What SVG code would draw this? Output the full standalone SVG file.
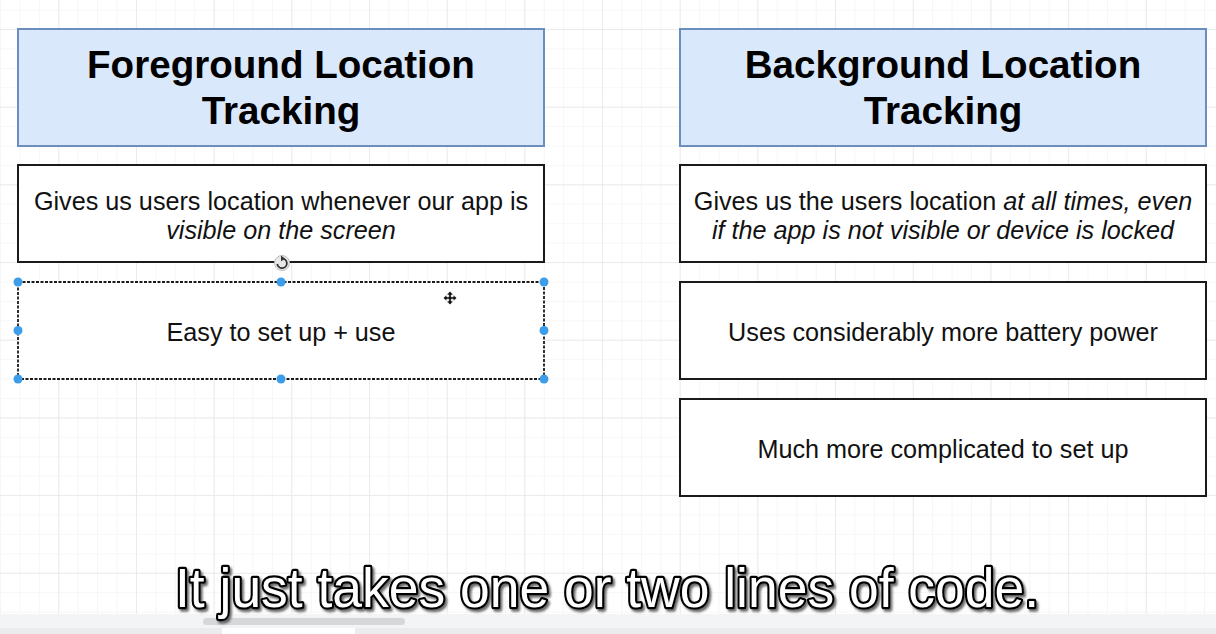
<svg xmlns="http://www.w3.org/2000/svg" width="1216" height="634" viewBox="0 0 1216 634">
  <style>
    .hdr { fill: #dae8fc; stroke: #6c8ebf; stroke-width: 2; }
    .box { fill: #ffffff; stroke: #1a1a1a; stroke-width: 2; }
    .ttl { font-family: "Liberation Sans", Arial, sans-serif; font-size: 38.6px; font-weight: bold; fill: #000; text-anchor: middle; }
    .txt { font-family: "Liberation Sans", Arial, sans-serif; font-size: 25.2px; fill: #111; text-anchor: middle; }
    .it { font-style: italic; }
    .handle { fill: #3d9de9; }
    .cap { font-family: "Liberation Sans", Arial, sans-serif; font-size: 56px; fill: #ffffff; stroke: #000; stroke-width: 4.5; paint-order: stroke; stroke-linejoin: round; }
  </style>
  <defs>
    <pattern id="minor" width="19.42" height="19.42" x="0" y="9.58" patternUnits="userSpaceOnUse">
      <path d="M0 0H19.42M0 0V19.42" fill="none" stroke="#f0f0f0" stroke-width="1.2"/>
    </pattern>
    <pattern id="major" width="77.68" height="77.68" x="58.26" y="29" patternUnits="userSpaceOnUse">
      <path d="M0 0H77.68M0 0V77.68" fill="none" stroke="#e6e6e6" stroke-width="1.4"/>
    </pattern>
    <filter id="shadow" x="-5%" y="-30%" width="110%" height="160%">
      <feDropShadow dx="2" dy="2.5" stdDeviation="0.8" flood-color="#444" flood-opacity="0.8"/>
    </filter>
  </defs>

  <!-- canvas background with grid -->
  <rect x="0" y="0" width="1216" height="634" fill="#ffffff"/>
  <rect x="0" y="0" width="1216" height="614" fill="url(#minor)"/>
  <rect x="0" y="0" width="1216" height="614" fill="url(#major)"/>

  <!-- bottom UI band -->
  <rect x="0" y="614" width="1216" height="20" fill="#f3f4f6"/>
  <rect x="0" y="628" width="1216" height="6" fill="#ebecee"/>
  <rect x="222" y="628" width="133" height="6" fill="#ffffff"/>
  <rect x="203" y="618" width="202" height="7" rx="3.5" fill="#d6d7d9"/>

  <g id="connectors"></g>

  <g id="fg-header">
    <rect class="hdr" x="18" y="29" width="526" height="117"/>
    <text class="ttl" x="281" y="78">Foreground Location</text>
    <text class="ttl" x="281" y="124">Tracking</text>
  </g>

  <g id="fg-visible">
    <rect class="box" x="18" y="165" width="526" height="97"/>
    <text class="txt" x="281" y="210">Gives us users location whenever our app is</text>
    <text class="txt it" x="281" y="239">visible on the screen</text>
  </g>

  <g id="fg-easy">
    <rect x="18" y="282" width="526" height="97" fill="#ffffff" stroke="#1a1a1a" stroke-width="1.8" stroke-dasharray="3 1.5"/>
    <text class="txt" x="281" y="341">Easy to set up + use</text>
  </g>

  <g id="selection-handles">
    <circle class="handle" cx="18" cy="282" r="4.5"/>
    <circle class="handle" cx="281" cy="282" r="4.5"/>
    <circle class="handle" cx="544" cy="282" r="4.5"/>
    <circle class="handle" cx="18" cy="330.5" r="4.5"/>
    <circle class="handle" cx="544" cy="330.5" r="4.5"/>
    <circle class="handle" cx="18" cy="379" r="4.5"/>
    <circle class="handle" cx="281" cy="379" r="4.5"/>
    <circle class="handle" cx="544" cy="379" r="4.5"/>
    <!-- rotate handle -->
    <circle cx="282" cy="263" r="7.5" fill="#e8e8e8" stroke="#bdbdbd" stroke-width="1"/>
    <path d="M277.3 264 A4.8 4.8 0 1 0 282 258.5" fill="none" stroke="#333" stroke-width="1.8"/>
    <path d="M281 255.5 L284.8 258.6 L281 261.5 Z" fill="#333"/>
    <!-- move cursor -->
    <path d="M450 291 L453.5 295 L451.3 295 L451.3 296.8 L453.2 296.8 L453.2 294.7 L457 298 L453.2 301.3 L453.2 299.2 L451.3 299.2 L451.3 301 L453.5 301 L450 305 L446.5 301 L448.7 301 L448.7 299.2 L446.8 299.2 L446.8 301.3 L443 298 L446.8 294.7 L446.8 296.8 L448.7 296.8 L448.7 295 L446.5 295 Z" fill="#111" stroke="#ffffff" stroke-width="0.8"/>
  </g>

  <g id="bg-header">
    <rect class="hdr" x="680" y="29" width="526" height="117"/>
    <text class="ttl" x="943" y="78">Background Location</text>
    <text class="ttl" x="943" y="124">Tracking</text>
  </g>

  <g id="bg-always">
    <rect class="box" x="680" y="165" width="526" height="97"/>
    <text class="txt" x="943" y="210">Gives us the users location <tspan class="it">at all times, even</tspan></text>
    <text class="txt it" x="943" y="239">if the app is not visible or device is locked</text>
  </g>

  <g id="bg-battery">
    <rect class="box" x="680" y="282" width="526" height="97"/>
    <text class="txt" x="943" y="341">Uses considerably more battery power</text>
  </g>

  <g id="bg-complicated">
    <rect class="box" x="680" y="399" width="526" height="97"/>
    <text class="txt" x="943" y="458">Much more complicated to set up</text>
  </g>

  <g id="caption" filter="url(#shadow)">
    <text class="cap" x="175" y="607" textLength="864" lengthAdjust="spacingAndGlyphs">It just takes one or two lines of code.</text>
  </g>
</svg>
